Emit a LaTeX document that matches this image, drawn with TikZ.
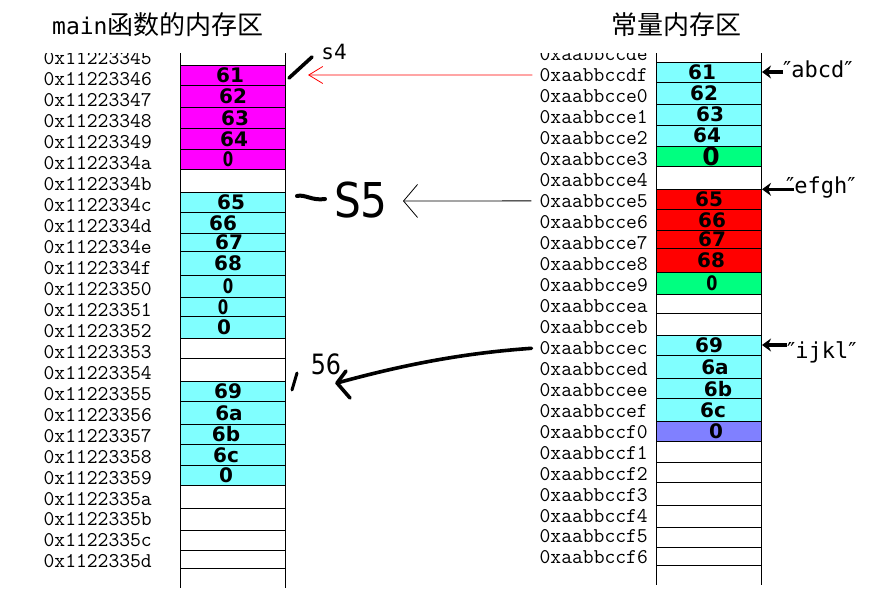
\documentclass[tikz,border=0pt]{standalone}
\usepackage{fontspec}
\usetikzlibrary{arrows.meta}
\newfontfamily\cjkf{Noto Sans CJK SC}
\newfontfamily\msans{DejaVu Sans Mono}
\newfontfamily\dsans{DejaVu Sans}
\definecolor{cmag}{HTML}{FF00FF}
\definecolor{ccyan}{HTML}{80FFFF}
\definecolor{cgreen}{HTML}{00FF80}
\definecolor{cred}{HTML}{FF0000}
\definecolor{cblue}{HTML}{8080FF}
\newcommand\qmk{{\dsans\char"2033}}
\begin{document}
\begin{tikzpicture}[x=1pt,y=-1pt,
  addr/.style={inner sep=0pt, anchor=east, font=\fontsize{21}{21}\ttfamily},
  hand/.style={inner sep=0pt, font=\fontsize{20}{20}\dsans\bfseries},
  celline/.style={line width=1pt},
  lbl/.style={inner sep=0pt, anchor=base west, font=\fontsize{22}{22}\msans},
  pen/.style={line width=3.6pt, line cap=round, line join=round},
  tinyarr/.style={line width=3.2pt, -{Stealth[length=9pt,width=13pt]}}]
\useasboundingbox (0,0) rectangle (876,597);

% titles
\node[anchor=west, inner sep=0pt] (t1) at (52,25) {{\fontsize{23}{23}\msans main}{\fontsize{26}{26}\cjkf 函数的内存区}};
\node[anchor=west, inner sep=0pt] (t2) at (611,25) {\fontsize{26}{26}\cjkf 常量内存区};

% left column fills
\fill[cmag] (180.5,65) rectangle (285.5,169.3);
\fill[ccyan] (180.5,192.3) rectangle (285.5,338.3);
\fill[ccyan] (180.5,381.3) rectangle (285.5,485.3);
% right column fills
\fill[ccyan] (656.5,62.3) rectangle (761.5,146);
\fill[cgreen] (656.5,146) rectangle (761.5,166.7);
\fill[cred] (656.5,189.3) rectangle (761.5,272.3);
\fill[cgreen] (656.5,272.3) rectangle (761.5,294.3);
\fill[ccyan] (656.5,335.3) rectangle (761.5,421.3);
\fill[cblue] (656.5,421.3) rectangle (761.5,441.3);

% cell lines
\foreach \y in {65,85.3,107.3,128.3,149.3,169.3,192.3,212.3,233.3,251.3,275.3,297.3,316.3,338.3,358.3,381.3,401.3,424.3,444.3,465.3,485.3,508.3,530.3,550.3,568.3}
  \draw[celline] (180.5,\y) -- (285.5,\y);
\draw[celline] (180.5,53) -- (180.5,588) (285.5,53) -- (285.5,588);
\foreach \y in {62.3,82.3,104,125,146,166.7,189.3,209.3,230.3,248.3,272.3,294.3,313.3,335.3,355.3,378.7,398.7,421.3,441.3,462.7,482.7,505.3,527.3,547.3,565.3}
  \draw[celline] (656.5,\y) -- (761.5,\y);
\draw[celline] (656.5,53) -- (656.5,585) (761.5,53) -- (761.5,585);

% address labels
\begin{scope}
\clip (0,53.5) rectangle (876,597);
\foreach \t [count=\i from 0] in {45,46,47,48,49,4a,4b,4c,4d,4e,4f,50,51,52,53,54,55,56,57,58,59,5a,5b,5c,5d}
  \node[addr] (L\i) at (152,{58+20.98*\i}) {0x112233\t};
\foreach \t [count=\i from 0] in {de,df,e0,e1,e2,e3,e4,e5,e6,e7,e8,e9,ea,eb,ec,ed,ee,ef,f0,f1,f2,f3,f4,f5,f6}
  \node[addr] (R\i) at (648,{54+20.98*\i}) {0xaabbcc\t};
\end{scope}

% handwritten cell contents, left
\node[hand] (a46) at (230,75.2) {61};
\node[hand] (a47) at (233,96.3) {62};
\node[hand] (a48) at (235,117.8) {63};
\node[hand] (a49) at (234,138.8) {64};
\node[hand, xscale=0.75] (a4a) at (228,159.3) {0};
\node[hand] (a4c) at (231,202.3) {65};
\node[hand] (a4d) at (223,222.8) {66};
\node[hand] (a4e) at (229,242.3) {67};
\node[hand] (a4f) at (228,263.3) {68};
\node[hand, xscale=0.75] (a50) at (228,286.3) {0};
\node[hand, xscale=0.75] (a51) at (223,306.8) {0};
\node[hand] (a52) at (224,327.3) {0};
\node[hand] (a55) at (228,391.3) {69};
\node[hand] (a56) at (229,412.8) {6a};
\node[hand] (a57) at (226,434.3) {6b};
\node[hand] (a58) at (226,454.8) {6c};
\node[hand] (a59) at (226,475.3) {0};
% handwritten cell contents, right
\node[hand] (bdf) at (702,72.3) {61};
\node[hand] (be0) at (704,93.2) {62};
\node[hand] (be1) at (710,114.5) {63};
\node[hand] (be2) at (707,135.5) {64};
\node[hand, font=\fontsize{25}{25}\dsans\bfseries] (be3) at (711,156.3) {0};
\node[hand] (be5) at (709,199.3) {65};
\node[hand] (be6) at (712,219.8) {66};
\node[hand] (be7) at (712,239.3) {67};
\node[hand] (be8) at (711,260.3) {68};
\node[hand, xscale=0.8] (be9) at (712,283.3) {0};
\node[hand] (bec) at (709,345.3) {69};
\node[hand] (bed) at (715,367) {6a};
\node[hand] (bee) at (718,388.7) {6b};
\node[hand] (bef) at (713,410) {6c};
\node[hand] (bf0) at (716,431.3) {0};

% s4 pointer
\node[inner sep=0pt, font=\fontsize{21}{21}\msans] (s4) at (334,52) {s4};
\draw[pen] (289,78) -- (312,57);
\coordinate (s4tip) at (308,75);
\draw[red, line width=0.8pt, shorten <=7pt, -{Straight Barb[length=14pt,width=17pt]}] (R1.west) -- (s4tip);

% s5 pointer
\draw[line width=4pt, line cap=round] (297,196) .. controls (305,194) and (312,201) .. (325,199);
\node[inner sep=0pt, font=\fontsize{48}{48}\dsans, xscale=0.88] (S5) at (361,200) {S5};
\coordinate (s5tip) at (403,201);
\draw[line width=0.8pt, shorten <=8pt, -{Straight Barb[length=14pt,width=33pt]}] (R7.west) -- (s5tip);

% s6 pointer
\draw[line width=3pt, line cap=round] (297,373) -- (292,390);
\node[inner sep=0pt, font=\fontsize{28}{28}\dsans, xscale=0.85] (n56) at (326,364) {56};
\coordinate (s6tip) at (337,383);
\coordinate (s6w1) at (346,371);
\coordinate (s6w2) at (350,398);
\draw[pen, shorten <=8pt] (R14.west) .. controls (480,352) and (420,360) .. (s6tip);
\draw[pen] (s6w1) -- (s6tip) -- (s6w2);

% string literal labels
\node[lbl] (Tabcd) at (783,77) {\qmk abcd\qmk};
\coordinate (abcdtip) at (762,72);
\draw[tinyarr] (Tabcd.west |- abcdtip) -- (abcdtip);
\node[lbl] (Tefgh) at (786,193) {\qmk efgh\qmk};
\coordinate (efghtip) at (762,189.3);
\draw[tinyarr] ([xshift=8pt]Tefgh.west |- efghtip) -- (efghtip);
\node[lbl] (Tijkl) at (787,358) {\qmk ijkl\qmk};
\coordinate (ijkltip) at (762,345);
\draw[tinyarr] (Tijkl.west |- ijkltip) -- (ijkltip);
\end{tikzpicture}
\end{document}
